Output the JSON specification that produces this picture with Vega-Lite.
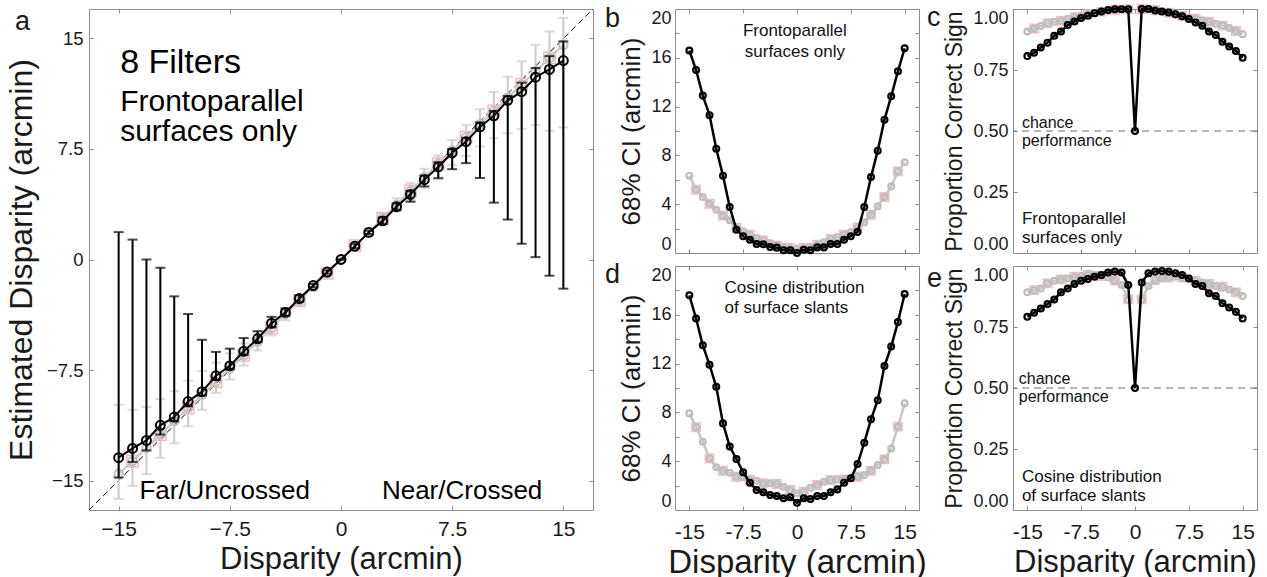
{
  "$schema": "https://vega.github.io/schema/vega-lite/v6.json",
  "background": "white",
  "padding": {"left": 4, "top": 1, "right": 0, "bottom": 0},
  "config": {
    "font": "Liberation Sans",
    "view": {"stroke": "#8c8c8c", "strokeWidth": 1},
    "axis": {"grid": false, "domain": false, "tickColor": "#8c8c8c", "tickWidth": 1, "labelColor": "#1a1a1a", "titleColor": "#1a1a1a", "titleFontWeight": "normal", "labelFont": "Liberation Sans", "titleFont": "Liberation Sans", "labelOverlap": false, "labelFlush": false},
    "title": {"font": "Liberation Sans", "fontWeight": "normal", "color": "#1a1a1a", "anchor": "start", "frame": "group", "offset": 0, "fontSize": 27, "baseline": "alphabetic"},
    "text": {"font": "Liberation Sans", "color": "#111111"}
  },
  "datasets": {
    "A": [
      {"i":0,"disp":-15,"bc":-13.45,"blo":-14.8,"bhi":1.86,"gc":-14.55,"glo":-16.25,"ghi":-9.86},
      {"i":1,"disp":-14.0625,"bc":-12.82,"blo":-13.74,"bhi":1.35,"gc":-13.68,"glo":-15.36,"ghi":-10.2},
      {"i":2,"disp":-13.125,"bc":-12.28,"blo":-12.96,"bhi":0.0,"gc":-12.78,"glo":-14.57,"ghi":-10.0},
      {"i":3,"disp":-12.1875,"bc":-11.25,"blo":-11.88,"bhi":-0.56,"gc":-11.88,"glo":-13.45,"ghi":-9.48},
      {"i":4,"disp":-11.25,"bc":-10.69,"blo":-10.98,"bhi":-2.5,"gc":-10.98,"glo":-12.47,"ghi":-8.92},
      {"i":5,"disp":-10.3125,"bc":-9.64,"blo":-9.97,"bhi":-3.7,"gc":-10.08,"glo":-11.32,"ghi":-8.23},
      {"i":6,"disp":-9.375,"bc":-8.97,"blo":-9.23,"bhi":-5.45,"gc":-9.18,"glo":-10.2,"ghi":-7.56},
      {"i":7,"disp":-8.4375,"bc":-7.89,"blo":-8.18,"bhi":-6.27,"gc":-8.3,"glo":-9.05,"ghi":-7.0},
      {"i":8,"disp":-7.5,"bc":-7.22,"blo":-7.44,"bhi":-6.05,"gc":-7.4,"glo":-8.15,"ghi":-6.37},
      {"i":9,"disp":-6.5625,"bc":-6.23,"blo":-6.46,"bhi":-5.33,"gc":-6.5,"glo":-7.2,"ghi":-5.7},
      {"i":10,"disp":-5.625,"bc":-5.38,"blo":-5.6,"bhi":-4.86,"gc":-5.58,"glo":-6.17,"ghi":-4.94},
      {"i":11,"disp":-4.6875,"bc":-4.33,"blo":-4.6,"bhi":-3.89,"gc":-4.65,"glo":-5.15,"ghi":-4.11},
      {"i":12,"disp":-3.75,"bc":-3.59,"blo":-3.82,"bhi":-3.33,"gc":-3.72,"glo":-4.12,"ghi":-3.3},
      {"i":13,"disp":-2.8125,"bc":-2.65,"blo":-2.86,"bhi":-2.42,"gc":-2.8,"glo":-3.1,"ghi":-2.47},
      {"i":14,"disp":-1.875,"bc":-1.77,"blo":-1.88,"bhi":-1.66,"gc":-1.87,"glo":-2.11,"ghi":-1.62},
      {"i":15,"disp":-0.9375,"bc":-0.85,"blo":-0.96,"bhi":-0.74,"gc":-0.94,"glo":-1.14,"ghi":-0.73},
      {"i":16,"disp":0,"bc":0,"blo":0,"bhi":0,"gc":0,"glo":-0.16,"ghi":0.17},
      {"i":17,"disp":0.9375,"bc":0.9,"blo":0.77,"bhi":1.04,"gc":0.94,"glo":0.73,"ghi":1.14},
      {"i":18,"disp":1.875,"bc":1.84,"blo":1.73,"bhi":1.95,"gc":1.87,"glo":1.62,"ghi":2.11},
      {"i":19,"disp":2.8125,"bc":2.62,"blo":2.4,"bhi":2.86,"gc":2.8,"glo":2.46,"ghi":3.14},
      {"i":20,"disp":3.75,"bc":3.58,"blo":3.35,"bhi":3.81,"gc":3.72,"glo":3.28,"ghi":4.15},
      {"i":21,"disp":4.6875,"bc":4.42,"blo":3.92,"bhi":4.66,"gc":4.65,"glo":4.05,"ghi":5.2},
      {"i":22,"disp":5.625,"bc":5.42,"blo":4.96,"bhi":5.7,"gc":5.58,"glo":4.85,"ghi":6.16},
      {"i":23,"disp":6.5625,"bc":6.28,"blo":5.51,"bhi":6.6,"gc":6.5,"glo":5.56,"ghi":7.06},
      {"i":24,"disp":7.5,"bc":7.24,"blo":6.13,"bhi":7.5,"gc":7.4,"glo":6.42,"ghi":8.11},
      {"i":25,"disp":8.4375,"bc":8.0,"blo":6.54,"bhi":8.26,"gc":8.3,"glo":7.02,"ghi":9.12},
      {"i":26,"disp":9.375,"bc":9.0,"blo":5.53,"bhi":9.3,"gc":9.18,"glo":7.67,"ghi":10.2},
      {"i":27,"disp":10.3125,"bc":9.75,"blo":3.86,"bhi":10.09,"gc":10.08,"glo":8.23,"ghi":11.37},
      {"i":28,"disp":11.25,"bc":10.8,"blo":2.71,"bhi":11.1,"gc":10.98,"glo":8.56,"ghi":12.4},
      {"i":29,"disp":12.1875,"bc":11.39,"blo":1.07,"bhi":12.0,"gc":11.88,"glo":8.86,"ghi":13.45},
      {"i":30,"disp":13.125,"bc":12.37,"blo":0.16,"bhi":13.0,"gc":12.78,"glo":9.12,"ghi":14.57},
      {"i":31,"disp":14.0625,"bc":12.9,"blo":-1.1,"bhi":13.8,"gc":13.68,"glo":8.74,"ghi":15.47},
      {"i":32,"disp":15,"bc":13.5,"blo":-1.98,"bhi":14.8,"gc":14.55,"glo":8.97,"ghi":16.4}
    ],
    "S": [
      {"i":0,"disp":-15,"bk_b":16.6,"gr_b":6.34,"bk_d":17.6,"gr_d":7.92,"bk_c":0.807,"gr_c":0.908,"bk_e":0.792,"gr_e":0.892},
      {"i":1,"disp":-14.0625,"bk_b":15.0,"gr_b":5.19,"bk_d":15.7,"gr_d":6.78,"bk_c":0.821,"gr_c":0.92,"bk_e":0.808,"gr_e":0.901},
      {"i":2,"disp":-13.125,"bk_b":12.9,"gr_b":4.59,"bk_d":13.5,"gr_d":5.6,"bk_c":0.842,"gr_c":0.93,"bk_e":0.826,"gr_e":0.908},
      {"i":3,"disp":-12.1875,"bk_b":11.3,"gr_b":4.04,"bk_d":11.9,"gr_d":4.23,"bk_c":0.862,"gr_c":0.942,"bk_e":0.844,"gr_e":0.929},
      {"i":4,"disp":-11.25,"bk_b":8.55,"gr_b":3.55,"bk_d":10.1,"gr_d":3.5,"bk_c":0.89,"gr_c":0.948,"bk_e":0.863,"gr_e":0.94},
      {"i":5,"disp":-10.3125,"bk_b":6.34,"gr_b":3.06,"bk_d":7.1,"gr_d":3.22,"bk_c":0.908,"gr_c":0.952,"bk_e":0.892,"gr_e":0.945},
      {"i":6,"disp":-9.375,"bk_b":3.77,"gr_b":2.68,"bk_d":5.2,"gr_d":3.06,"bk_c":0.934,"gr_c":0.959,"bk_e":0.908,"gr_e":0.949},
      {"i":7,"disp":-8.4375,"bk_b":1.91,"gr_b":2.05,"bk_d":4.18,"gr_d":2.73,"bk_c":0.949,"gr_c":0.966,"bk_e":0.926,"gr_e":0.956},
      {"i":8,"disp":-7.5,"bk_b":1.37,"gr_b":1.78,"bk_d":3.09,"gr_d":2.68,"bk_c":0.963,"gr_c":0.972,"bk_e":0.94,"gr_e":0.959},
      {"i":9,"disp":-6.5625,"bk_b":1.09,"gr_b":1.5,"bk_d":2.24,"gr_d":2.46,"bk_c":0.972,"gr_c":0.979,"bk_e":0.947,"gr_e":0.963},
      {"i":10,"disp":-5.625,"bk_b":0.74,"gr_b":1.23,"bk_d":1.64,"gr_d":2.4,"bk_c":0.983,"gr_c":0.983,"bk_e":0.956,"gr_e":0.963},
      {"i":11,"disp":-4.6875,"bk_b":0.71,"gr_b":1.04,"bk_d":1.45,"gr_d":2.19,"bk_c":0.99,"gr_c":0.989,"bk_e":0.963,"gr_e":0.959},
      {"i":12,"disp":-3.75,"bk_b":0.49,"gr_b":0.82,"bk_d":1.23,"gr_d":2.19,"bk_c":0.996,"gr_c":0.993,"bk_e":0.973,"gr_e":0.953},
      {"i":13,"disp":-2.8125,"bk_b":0.44,"gr_b":0.63,"bk_d":1.15,"gr_d":2.13,"bk_c":0.999,"gr_c":0.997,"bk_e":0.977,"gr_e":0.94},
      {"i":14,"disp":-1.875,"bk_b":0.22,"gr_b":0.49,"bk_d":0.96,"gr_d":1.91,"bk_c":0.999,"gr_c":0.999,"bk_e":0.973,"gr_e":0.922},
      {"i":15,"disp":-0.9375,"bk_b":0.22,"gr_b":0.41,"bk_d":1.04,"gr_d":1.64,"bk_c":0.999,"gr_c":0.999,"bk_e":0.922,"gr_e":0.863},
      {"i":16,"disp":0,"bk_b":0.0,"gr_b":0.33,"bk_d":0.6,"gr_d":1.37,"bk_c":0.5,"gr_c":null,"bk_e":0.5,"gr_e":null},
      {"i":17,"disp":0.9375,"bk_b":0.27,"gr_b":0.41,"bk_d":0.96,"gr_d":1.5,"bk_c":1.0,"gr_c":1.0,"bk_e":0.932,"gr_e":0.863},
      {"i":18,"disp":1.875,"bk_b":0.22,"gr_b":0.49,"bk_d":0.9,"gr_d":1.83,"bk_c":1.0,"gr_c":0.999,"bk_e":0.97,"gr_e":0.918},
      {"i":19,"disp":2.8125,"bk_b":0.46,"gr_b":0.68,"bk_d":1.15,"gr_d":2.05,"bk_c":0.994,"gr_c":0.995,"bk_e":0.977,"gr_e":0.942},
      {"i":20,"disp":3.75,"bk_b":0.46,"gr_b":0.87,"bk_d":1.15,"gr_d":2.32,"bk_c":0.99,"gr_c":0.99,"bk_e":0.979,"gr_e":0.949},
      {"i":21,"disp":4.6875,"bk_b":0.74,"gr_b":1.15,"bk_d":1.45,"gr_d":2.46,"bk_c":0.986,"gr_c":0.985,"bk_e":0.977,"gr_e":0.953},
      {"i":22,"disp":5.625,"bk_b":0.74,"gr_b":1.31,"bk_d":1.69,"gr_d":2.51,"bk_c":0.978,"gr_c":0.98,"bk_e":0.97,"gr_e":0.956},
      {"i":23,"disp":6.5625,"bk_b":1.09,"gr_b":1.5,"bk_d":2.24,"gr_d":2.51,"bk_c":0.97,"gr_c":0.972,"bk_e":0.963,"gr_e":0.953},
      {"i":24,"disp":7.5,"bk_b":1.37,"gr_b":1.69,"bk_d":2.6,"gr_d":2.6,"bk_c":0.959,"gr_c":0.965,"bk_e":0.949,"gr_e":0.949},
      {"i":25,"disp":8.4375,"bk_b":1.72,"gr_b":2.1,"bk_d":3.77,"gr_d":2.73,"bk_c":0.945,"gr_c":0.96,"bk_e":0.926,"gr_e":0.94},
      {"i":26,"disp":9.375,"bk_b":3.77,"gr_b":2.51,"bk_d":5.52,"gr_d":2.87,"bk_c":0.931,"gr_c":0.954,"bk_e":0.918,"gr_e":0.932},
      {"i":27,"disp":10.3125,"bk_b":6.23,"gr_b":3.14,"bk_d":7.43,"gr_d":3.22,"bk_c":0.908,"gr_c":0.948,"bk_e":0.888,"gr_e":0.926},
      {"i":28,"disp":11.25,"bk_b":8.39,"gr_b":3.83,"bk_d":9.0,"gr_d":3.69,"bk_c":0.893,"gr_c":0.94,"bk_e":0.877,"gr_e":0.918},
      {"i":29,"disp":12.1875,"bk_b":10.93,"gr_b":4.59,"bk_d":11.8,"gr_d":4.15,"bk_c":0.866,"gr_c":0.932,"bk_e":0.847,"gr_e":0.915},
      {"i":30,"disp":13.125,"bk_b":12.84,"gr_b":5.46,"bk_d":13.4,"gr_d":5.05,"bk_c":0.846,"gr_c":0.922,"bk_e":0.83,"gr_e":0.904},
      {"i":31,"disp":14.0625,"bk_b":14.9,"gr_b":6.69,"bk_d":15.4,"gr_d":6.83,"bk_c":0.828,"gr_c":0.91,"bk_e":0.812,"gr_e":0.892},
      {"i":32,"disp":15,"bk_b":16.78,"gr_b":7.43,"bk_d":17.7,"gr_d":8.74,"bk_c":0.8,"gr_c":0.897,"bk_e":0.785,"gr_e":0.877}
    ]
  },
  "bounds": "flush",
  "spacing": 82,
  "hconcat": [
    {
      "width": 504, "height": 501,
      "title": {"text": "a", "dx": -74, "dy": 31},
      "layer": [
        {
          "data": {"values": [{}]},
          "mark": {"type": "rule", "color": "#000000", "strokeWidth": 1, "strokeDash": [6, 4]},
          "encoding": {
            "x": {"datum": -17, "type": "quantitative", "scale": {"domain": [-17, 17], "nice": false}, "axis": null},
            "y": {"datum": -17, "type": "quantitative", "scale": {"domain": [-17, 17], "nice": false}, "axis": null},
            "x2": {"datum": 17}, "y2": {"datum": 17}
          }
        },
        {
          "data": {"name": "A"},
          "encoding": {"x": {"field": "disp", "type": "quantitative", "scale": {"domain": [-17, 17], "nice": false}, "axis": null}},
          "layer": [
            {"mark": {"type": "rule", "color": "#cacaca", "strokeWidth": 2}, "encoding": {"y": {"field": "glo", "type": "quantitative", "scale": {"domain": [-17, 17], "nice": false}, "axis": null}, "y2": {"field": "ghi"}}},
            {"mark": {"type": "tick", "orient": "horizontal", "color": "#cacaca", "size": 10, "thickness": 2}, "encoding": {"y": {"field": "glo", "type": "quantitative", "scale": {"domain": [-17, 17], "nice": false}, "axis": null}}},
            {"mark": {"type": "tick", "orient": "horizontal", "color": "#cacaca", "size": 10, "thickness": 2}, "encoding": {"y": {"field": "ghi", "type": "quantitative", "scale": {"domain": [-17, 17], "nice": false}, "axis": null}}},
            {"transform": [{"filter": "datum.i % 2 == 1"}], "mark": {"type": "square", "filled": false, "color": "#f6b9b9", "size": 130, "strokeWidth": 1.5, "opacity": 1}, "encoding": {"y": {"field": "gc", "type": "quantitative", "scale": {"domain": [-17, 17], "nice": false}, "axis": null}}},
            {"mark": {"type": "line", "color": "#c8c8c8", "strokeWidth": 2}, "encoding": {"y": {"field": "gc", "type": "quantitative", "scale": {"domain": [-17, 17], "nice": false}, "axis": null}}},
            {"mark": {"type": "point", "shape": "circle", "filled": false, "color": "#c0c0c0", "size": 70, "strokeWidth": 2, "opacity": 1}, "encoding": {"y": {"field": "gc", "type": "quantitative", "scale": {"domain": [-17, 17], "nice": false}, "axis": null}}},
            {"mark": {"type": "rule", "color": "#000000", "strokeWidth": 2}, "encoding": {"y": {"field": "blo", "type": "quantitative", "scale": {"domain": [-17, 17], "nice": false}, "axis": null}, "y2": {"field": "bhi"}}},
            {"mark": {"type": "tick", "orient": "horizontal", "color": "#000000", "size": 10, "thickness": 2}, "encoding": {"y": {"field": "blo", "type": "quantitative", "scale": {"domain": [-17, 17], "nice": false}, "axis": null}}},
            {"mark": {"type": "tick", "orient": "horizontal", "color": "#000000", "size": 10, "thickness": 2}, "encoding": {"y": {"field": "bhi", "type": "quantitative", "scale": {"domain": [-17, 17], "nice": false}, "axis": null}}},
            {"mark": {"type": "line", "color": "#000000", "strokeWidth": 2}, "encoding": {"y": {"field": "bc", "type": "quantitative", "scale": {"domain": [-17, 17], "nice": false}, "axis": null}}},
            {"mark": {"type": "point", "shape": "circle", "filled": false, "color": "#000000", "size": 80, "strokeWidth": 2, "opacity": 1}, "encoding": {"y": {"field": "bc", "type": "quantitative", "scale": {"domain": [-17, 17], "nice": false}, "axis": null}}}
          ]
        },
        {
          "data": {"values": [{}]},
          "mark": {"type": "text", "text": "8 Filters", "align": "left", "baseline": "alphabetic", "fontSize": 34, "color": "#000000"},
          "encoding": {
            "x": {"datum": -14.9, "type": "quantitative", "scale": {"domain": [-17, 17], "nice": false}, "axis": {"orient": "bottom", "values": [-15, -7.5, 0, 7.5, 15], "format": "~g", "labelExpr": "replace(datum.label, '-', '−')", "labelFontSize": 21, "labelPadding": 12, "tickSize": -4, "title": "Disparity (arcmin)", "titleFontSize": 31, "titlePadding": 5}},
            "y": {"datum": 12.66, "type": "quantitative", "scale": {"domain": [-17, 17], "nice": false}, "axis": {"orient": "left", "values": [-15, -7.5, 0, 7.5, 15], "format": "~g", "labelExpr": "replace(datum.label, '-', '−')", "labelFontSize": 18.5, "labelPadding": 10, "tickSize": -4, "title": "Estimated Disparity (arcmin)", "titleFontSize": 32, "titlePadding": 8}}
          }
        },
        {
          "data": {"values": [{}]},
          "mark": {"type": "text", "text": ["Frontoparallel", "surfaces only"], "align": "left", "baseline": "alphabetic", "fontSize": 30, "lineHeight": 30, "color": "#000000"},
          "encoding": {
            "x": {"datum": -14.9, "type": "quantitative", "scale": {"domain": [-17, 17], "nice": false}, "axis": null},
            "y": {"datum": 10.09, "type": "quantitative", "scale": {"domain": [-17, 17], "nice": false}, "axis": null}
          }
        },
        {
          "data": {"values": [{"label": "Far/Uncrossed", "px": -13.6}, {"label": "Near/Crossed", "px": 2.76}]},
          "mark": {"type": "text", "align": "left", "baseline": "alphabetic", "fontSize": 26, "color": "#000000"},
          "encoding": {
            "text": {"field": "label"},
            "x": {"field": "px", "type": "quantitative", "scale": {"domain": [-17, 17], "nice": false}, "axis": null},
            "y": {"datum": -16.25, "type": "quantitative", "scale": {"domain": [-17, 17], "nice": false}, "axis": null}
          }
        },
        {
          "data": {"values": [{}]},
          "mark": {"type": "point", "opacity": 0},
          "encoding": {
            "x": {"datum": 0, "type": "quantitative", "scale": {"domain": [-17, 17], "nice": false}, "axis": {"orient": "top", "values": [-15, -7.5, 0, 7.5, 15], "labels": false, "tickSize": -4, "title": null}},
            "y": {"datum": 0, "type": "quantitative", "scale": {"domain": [-17, 17], "nice": false}, "axis": {"orient": "right", "values": [-15, -7.5, 0, 7.5, 15], "labels": false, "tickSize": -4, "title": null}}
          }
        }
      ],
      "resolve": {"axis": {"x": "independent", "y": "independent"}}
    },
    {
      "bounds": "flush",
      "spacing": 338,
      "hconcat": [
        {
          "bounds": "flush",
          "spacing": 13,
          "vconcat": [
            {
              "width": 244, "height": 244,
              "title": {"text": "b", "dx": -70, "dy": 28},
              "layer": [
                {
                  "data": {"name": "S"},
                  "encoding": {"x": {"field": "disp", "type": "quantitative", "scale": {"domain": [-17, 17], "nice": false}, "axis": null}},
                  "layer": [
                    {"transform": [{"filter": "datum.i % 2 == 1"}], "mark": {"type": "square", "filled": false, "color": "#f6b9b9", "size": 70, "strokeWidth": 1.5, "opacity": 1}, "encoding": {"y": {"field": "gr_b", "type": "quantitative", "scale": {"domain": [0, 20], "nice": false}, "axis": null}}},
                    {"mark": {"type": "line", "color": "#c6c6c6", "strokeWidth": 2.5}, "encoding": {"y": {"field": "gr_b", "type": "quantitative", "scale": {"domain": [0, 20], "nice": false}, "axis": null}}},
                    {"mark": {"type": "point", "shape": "circle", "filled": false, "color": "#bdbdbd", "size": 34, "strokeWidth": 2.2, "opacity": 1}, "encoding": {"y": {"field": "gr_b", "type": "quantitative", "scale": {"domain": [0, 20], "nice": false}, "axis": null}}},
                    {"mark": {"type": "line", "color": "#000000", "strokeWidth": 2.5}, "encoding": {"y": {"field": "bk_b", "type": "quantitative", "scale": {"domain": [0, 20], "nice": false}, "axis": null}}},
                    {"mark": {"type": "point", "shape": "circle", "filled": false, "color": "#000000", "size": 34, "strokeWidth": 2.2, "opacity": 1}, "encoding": {"y": {"field": "bk_b", "type": "quantitative", "scale": {"domain": [0, 20], "nice": false}, "axis": null}}}
                  ]
                },
                {
                  "data": {"values": [{}]},
                  "mark": {"type": "text", "text": ["Frontoparallel", "surfaces only"], "align": "center", "baseline": "alphabetic", "fontSize": 17, "lineHeight": 21},
                  "encoding": {
                    "x": {"datum": -0.3, "type": "quantitative", "scale": {"domain": [-17, 17], "nice": false}, "axis": {"orient": "bottom", "values": [-15, -7.5, 0, 7.5, 15], "labels": false, "tickSize": -4, "title": null}},
                    "y": {"datum": 17.8, "type": "quantitative", "scale": {"domain": [0, 20], "nice": false}, "axis": {"orient": "left", "values": [0, 2, 4, 6, 8, 10, 12, 14, 16, 18, 20], "labelExpr": "datum.value % 4 == 0 ? datum.label : ''", "labelFontSize": 18, "labelPadding": 8, "tickSize": -4, "labelFlush": true, "title": "68% CI (arcmin)", "titleFontSize": 26, "titlePadding": 6}}
                  }
                },
                {
                  "data": {"values": [{}]},
                  "mark": {"type": "point", "opacity": 0},
                  "encoding": {
                    "x": {"datum": 0, "type": "quantitative", "scale": {"domain": [-17, 17], "nice": false}, "axis": {"orient": "top", "values": [-15, -7.5, 0, 7.5, 15], "labels": false, "tickSize": -4, "title": null}},
                    "y": {"datum": 0, "type": "quantitative", "scale": {"domain": [0, 20], "nice": false}, "axis": {"orient": "right", "values": [0, 2, 4, 6, 8, 10, 12, 14, 16, 18, 20], "labels": false, "tickSize": -4, "title": null}}
                  }
                }
              ],
              "resolve": {"axis": {"x": "independent", "y": "independent"}}
            },
            {
              "width": 244, "height": 244,
              "title": {"text": "d", "dx": -70, "dy": 27},
              "layer": [
                {
                  "data": {"name": "S"},
                  "encoding": {"x": {"field": "disp", "type": "quantitative", "scale": {"domain": [-17, 17], "nice": false}, "axis": null}},
                  "layer": [
                    {"transform": [{"filter": "datum.i % 2 == 1"}], "mark": {"type": "square", "filled": false, "color": "#f6b9b9", "size": 70, "strokeWidth": 1.5, "opacity": 1}, "encoding": {"y": {"field": "gr_d", "type": "quantitative", "scale": {"domain": [0, 20], "nice": false}, "axis": null}}},
                    {"mark": {"type": "line", "color": "#c6c6c6", "strokeWidth": 2.5}, "encoding": {"y": {"field": "gr_d", "type": "quantitative", "scale": {"domain": [0, 20], "nice": false}, "axis": null}}},
                    {"mark": {"type": "point", "shape": "circle", "filled": false, "color": "#bdbdbd", "size": 34, "strokeWidth": 2.2, "opacity": 1}, "encoding": {"y": {"field": "gr_d", "type": "quantitative", "scale": {"domain": [0, 20], "nice": false}, "axis": null}}},
                    {"mark": {"type": "line", "color": "#000000", "strokeWidth": 2.5}, "encoding": {"y": {"field": "bk_d", "type": "quantitative", "scale": {"domain": [0, 20], "nice": false}, "axis": null}}},
                    {"mark": {"type": "point", "shape": "circle", "filled": false, "color": "#000000", "size": 34, "strokeWidth": 2.2, "opacity": 1}, "encoding": {"y": {"field": "bk_d", "type": "quantitative", "scale": {"domain": [0, 20], "nice": false}, "axis": null}}}
                  ]
                },
                {
                  "data": {"values": [{}]},
                  "mark": {"type": "text", "text": ["Cosine distribution", "of surface slants"], "align": "left", "baseline": "alphabetic", "fontSize": 17, "lineHeight": 20},
                  "encoding": {
                    "x": {"datum": -10.1, "type": "quantitative", "scale": {"domain": [-17, 17], "nice": false}, "axis": {"orient": "bottom", "values": [-15, -7.5, 0, 7.5, 15], "format": "~g", "labelExpr": "replace(datum.label, '−', '-')", "labelFontSize": 21, "labelPadding": 15, "tickSize": -4, "title": "Disparity (arcmin)", "titleFontSize": 33, "titlePadding": 4}},
                    "y": {"datum": 17.76, "type": "quantitative", "scale": {"domain": [0, 20], "nice": false}, "axis": {"orient": "left", "values": [0, 2, 4, 6, 8, 10, 12, 14, 16, 18, 20], "labelExpr": "datum.value % 4 == 0 ? datum.label : ''", "labelFontSize": 18, "labelPadding": 8, "tickSize": -4, "labelFlush": true, "title": "68% CI (arcmin)", "titleFontSize": 26, "titlePadding": 6}}
                  }
                },
                {
                  "data": {"values": [{}]},
                  "mark": {"type": "point", "opacity": 0},
                  "encoding": {
                    "x": {"datum": 0, "type": "quantitative", "scale": {"domain": [-17, 17], "nice": false}, "axis": {"orient": "top", "values": [-15, -7.5, 0, 7.5, 15], "labels": false, "tickSize": -4, "title": null}},
                    "y": {"datum": 0, "type": "quantitative", "scale": {"domain": [0, 20], "nice": false}, "axis": {"orient": "right", "values": [0, 2, 4, 6, 8, 10, 12, 14, 16, 18, 20], "labels": false, "tickSize": -4, "title": null}}
                  }
                }
              ],
              "resolve": {"axis": {"x": "independent", "y": "independent"}}
            }
          ]
        },
        {
          "bounds": "flush",
          "spacing": 13,
          "vconcat": [
            {
              "width": 244, "height": 244,
              "title": {"text": "c", "dx": -86, "dy": 34},
              "layer": [
                {
                  "data": {"values": [{}]},
                  "mark": {"type": "rule", "color": "#707070", "strokeWidth": 1, "strokeDash": [7, 5]},
                  "encoding": {"y": {"datum": 0.5, "type": "quantitative", "scale": {"domain": [0, 1], "nice": false}, "axis": null}}
                },
                {
                  "data": {"name": "S"},
                  "encoding": {"x": {"field": "disp", "type": "quantitative", "scale": {"domain": [-17, 17], "nice": false}, "axis": null}},
                  "layer": [
                    {"transform": [{"filter": "datum.i % 2 == 1"}], "mark": {"type": "square", "filled": false, "color": "#f6b9b9", "size": 70, "strokeWidth": 1.5, "opacity": 1}, "encoding": {"y": {"field": "gr_c", "type": "quantitative", "scale": {"domain": [0, 1], "nice": false}, "axis": null}}},
                    {"mark": {"type": "line", "color": "#c6c6c6", "strokeWidth": 2.5}, "encoding": {"y": {"field": "gr_c", "type": "quantitative", "scale": {"domain": [0, 1], "nice": false}, "axis": null}}},
                    {"mark": {"type": "point", "shape": "circle", "filled": false, "color": "#bdbdbd", "size": 34, "strokeWidth": 2.2, "opacity": 1}, "encoding": {"y": {"field": "gr_c", "type": "quantitative", "scale": {"domain": [0, 1], "nice": false}, "axis": null}}},
                    {"mark": {"type": "line", "color": "#000000", "strokeWidth": 2.5}, "encoding": {"y": {"field": "bk_c", "type": "quantitative", "scale": {"domain": [0, 1], "nice": false}, "axis": null}}},
                    {"mark": {"type": "point", "shape": "circle", "filled": false, "color": "#000000", "size": 34, "strokeWidth": 2.2, "opacity": 1}, "encoding": {"y": {"field": "bk_c", "type": "quantitative", "scale": {"domain": [0, 1], "nice": false}, "axis": null}}}
                  ]
                },
                {
                  "data": {"values": [{}]},
                  "mark": {"type": "text", "text": ["chance", "performance"], "align": "left", "baseline": "alphabetic", "fontSize": 16, "lineHeight": 18},
                  "encoding": {
                    "x": {"datum": -15.76, "type": "quantitative", "scale": {"domain": [-17, 17], "nice": false}, "axis": {"orient": "bottom", "values": [-15, -7.5, 0, 7.5, 15], "labels": false, "tickSize": -4, "title": null}},
                    "y": {"datum": 0.514, "type": "quantitative", "scale": {"domain": [0, 1], "nice": false}, "axis": {"orient": "left", "values": [0, 0.25, 0.5, 0.75, 1], "format": ".2f", "labelFontSize": 18, "labelPadding": 9, "tickSize": -4, "labelFlush": true, "title": "Proportion Correct Sign", "titleFontSize": 23, "titlePadding": 6}}
                  }
                },
                {
                  "data": {"values": [{}]},
                  "mark": {"type": "text", "text": ["Frontoparallel", "surfaces only"], "align": "left", "baseline": "alphabetic", "fontSize": 17, "lineHeight": 19.5},
                  "encoding": {
                    "x": {"datum": -15.76, "type": "quantitative", "scale": {"domain": [-17, 17], "nice": false}, "axis": null},
                    "y": {"datum": 0.119, "type": "quantitative", "scale": {"domain": [0, 1], "nice": false}, "axis": null}
                  }
                },
                {
                  "data": {"values": [{}]},
                  "mark": {"type": "point", "opacity": 0},
                  "encoding": {
                    "x": {"datum": 0, "type": "quantitative", "scale": {"domain": [-17, 17], "nice": false}, "axis": {"orient": "top", "values": [-15, -7.5, 0, 7.5, 15], "labels": false, "tickSize": -4, "title": null}},
                    "y": {"datum": 0, "type": "quantitative", "scale": {"domain": [0, 1], "nice": false}, "axis": {"orient": "right", "values": [0, 0.25, 0.5, 0.75, 1], "labels": false, "tickSize": -4, "title": null}}
                  }
                }
              ],
              "resolve": {"axis": {"x": "independent", "y": "independent"}}
            },
            {
              "width": 244, "height": 244,
              "title": {"text": "e", "dx": -86, "dy": 33},
              "layer": [
                {
                  "data": {"values": [{}]},
                  "mark": {"type": "rule", "color": "#707070", "strokeWidth": 1, "strokeDash": [7, 5]},
                  "encoding": {"y": {"datum": 0.5, "type": "quantitative", "scale": {"domain": [0, 1], "nice": false}, "axis": null}}
                },
                {
                  "data": {"name": "S"},
                  "encoding": {"x": {"field": "disp", "type": "quantitative", "scale": {"domain": [-17, 17], "nice": false}, "axis": null}},
                  "layer": [
                    {"transform": [{"filter": "datum.i % 2 == 1"}], "mark": {"type": "square", "filled": false, "color": "#f6b9b9", "size": 70, "strokeWidth": 1.5, "opacity": 1}, "encoding": {"y": {"field": "gr_e", "type": "quantitative", "scale": {"domain": [0, 1], "nice": false}, "axis": null}}},
                    {"mark": {"type": "line", "color": "#c6c6c6", "strokeWidth": 2.5}, "encoding": {"y": {"field": "gr_e", "type": "quantitative", "scale": {"domain": [0, 1], "nice": false}, "axis": null}}},
                    {"mark": {"type": "point", "shape": "circle", "filled": false, "color": "#bdbdbd", "size": 34, "strokeWidth": 2.2, "opacity": 1}, "encoding": {"y": {"field": "gr_e", "type": "quantitative", "scale": {"domain": [0, 1], "nice": false}, "axis": null}}},
                    {"mark": {"type": "line", "color": "#000000", "strokeWidth": 2.5}, "encoding": {"y": {"field": "bk_e", "type": "quantitative", "scale": {"domain": [0, 1], "nice": false}, "axis": null}}},
                    {"mark": {"type": "point", "shape": "circle", "filled": false, "color": "#000000", "size": 34, "strokeWidth": 2.2, "opacity": 1}, "encoding": {"y": {"field": "bk_e", "type": "quantitative", "scale": {"domain": [0, 1], "nice": false}, "axis": null}}}
                  ]
                },
                {
                  "data": {"values": [{}]},
                  "mark": {"type": "text", "text": ["chance", "performance"], "align": "left", "baseline": "alphabetic", "fontSize": 16, "lineHeight": 18},
                  "encoding": {
                    "x": {"datum": -16.2, "type": "quantitative", "scale": {"domain": [-17, 17], "nice": false}, "axis": {"orient": "bottom", "values": [-15, -7.5, 0, 7.5, 15], "format": "~g", "labelExpr": "replace(datum.label, '−', '-')", "labelFontSize": 21, "labelPadding": 15, "tickSize": -4, "title": "Disparity (arcmin)", "titleFontSize": 31, "titlePadding": 5}},
                    "y": {"datum": 0.515, "type": "quantitative", "scale": {"domain": [0, 1], "nice": false}, "axis": {"orient": "left", "values": [0, 0.25, 0.5, 0.75, 1], "format": ".2f", "labelFontSize": 18, "labelPadding": 9, "tickSize": -4, "labelFlush": true, "title": "Proportion Correct Sign", "titleFontSize": 23, "titlePadding": 6}}
                  }
                },
                {
                  "data": {"values": [{}]},
                  "mark": {"type": "text", "text": ["Cosine distribution", "of surface slants"], "align": "left", "baseline": "alphabetic", "fontSize": 17, "lineHeight": 19.5},
                  "encoding": {
                    "x": {"datum": -15.76, "type": "quantitative", "scale": {"domain": [-17, 17], "nice": false}, "axis": null},
                    "y": {"datum": 0.116, "type": "quantitative", "scale": {"domain": [0, 1], "nice": false}, "axis": null}
                  }
                },
                {
                  "data": {"values": [{}]},
                  "mark": {"type": "point", "opacity": 0},
                  "encoding": {
                    "x": {"datum": 0, "type": "quantitative", "scale": {"domain": [-17, 17], "nice": false}, "axis": {"orient": "top", "values": [-15, -7.5, 0, 7.5, 15], "labels": false, "tickSize": -4, "title": null}},
                    "y": {"datum": 0, "type": "quantitative", "scale": {"domain": [0, 1], "nice": false}, "axis": {"orient": "right", "values": [0, 0.25, 0.5, 0.75, 1], "labels": false, "tickSize": -4, "title": null}}
                  }
                }
              ],
              "resolve": {"axis": {"x": "independent", "y": "independent"}}
            }
          ]
        }
      ]
    }
  ]
}
